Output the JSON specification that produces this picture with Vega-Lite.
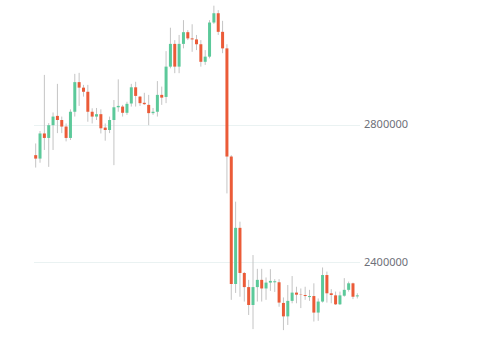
{
  "$schema": "https://vega.github.io/schema/vega-lite/v6.json",
  "autosize": {"type": "none"},
  "padding": {"left": 33.5, "top": 0, "right": 120.5, "bottom": 0},
  "width": 326,
  "height": 354,
  "config": {"view": {"stroke": null}},
  "data": {"values": [
    {"i":0,"open":2711000,"high":2745000,"low":2675000,"close":2701000},
    {"i":1,"open":2701000,"high":2781000,"low":2689000,"close":2774000},
    {"i":2,"open":2774000,"high":2944000,"low":2726000,"close":2761000},
    {"i":3,"open":2761000,"high":2804000,"low":2677000,"close":2798000},
    {"i":4,"open":2798000,"high":2835000,"low":2726000,"close":2823000},
    {"i":5,"open":2825000,"high":2918000,"low":2775000,"close":2813000},
    {"i":6,"open":2813000,"high":2823000,"low":2775000,"close":2794000},
    {"i":7,"open":2794000,"high":2803000,"low":2751000,"close":2761000},
    {"i":8,"open":2761000,"high":2844000,"low":2755000,"close":2837000},
    {"i":9,"open":2837000,"high":2947000,"low":2823000,"close":2923000},
    {"i":10,"open":2923000,"high":2950000,"low":2854000,"close":2907000},
    {"i":11,"open":2907000,"high":2915000,"low":2881000,"close":2895000},
    {"i":12,"open":2895000,"high":2915000,"low":2808000,"close":2837000},
    {"i":13,"open":2837000,"high":2847000,"low":2803000,"close":2823000},
    {"i":14,"open":2823000,"high":2848000,"low":2813000,"close":2830000},
    {"i":15,"open":2830000,"high":2844000,"low":2774000,"close":2789000},
    {"i":16,"open":2791000,"high":2803000,"low":2753000,"close":2784000},
    {"i":17,"open":2784000,"high":2823000,"low":2775000,"close":2813000},
    {"i":18,"open":2813000,"high":2871000,"low":2682000,"close":2850000},
    {"i":19,"open":2850000,"high":2931000,"low":2837000,"close":2854000},
    {"i":20,"open":2852000,"high":2857000,"low":2823000,"close":2834000},
    {"i":21,"open":2834000,"high":2866000,"low":2828000,"close":2860000},
    {"i":22,"open":2861000,"high":2918000,"low":2852000,"close":2908000},
    {"i":23,"open":2908000,"high":2924000,"low":2852000,"close":2883000},
    {"i":24,"open":2881000,"high":2883000,"low":2854000,"close":2862000},
    {"i":25,"open":2863000,"high":2892000,"low":2857000,"close":2859000},
    {"i":26,"open":2857000,"high":2886000,"low":2798000,"close":2833000},
    {"i":27,"open":2833000,"high":2848000,"low":2828000,"close":2837000},
    {"i":28,"open":2837000,"high":2926000,"low":2823000,"close":2886000},
    {"i":29,"open":2886000,"high":2910000,"low":2857000,"close":2878000},
    {"i":30,"open":2880000,"high":3013000,"low":2862000,"close":2968000},
    {"i":31,"open":2968000,"high":3081000,"low":2963000,"close":3034000},
    {"i":32,"open":3034000,"high":3045000,"low":2949000,"close":2968000},
    {"i":33,"open":2968000,"high":3060000,"low":2949000,"close":3034000},
    {"i":34,"open":3034000,"high":3103000,"low":3021000,"close":3068000},
    {"i":35,"open":3068000,"high":3074000,"low":3045000,"close":3050000},
    {"i":36,"open":3050000,"high":3091000,"low":3011000,"close":3047000},
    {"i":37,"open":3047000,"high":3060000,"low":3016000,"close":3033000},
    {"i":38,"open":3033000,"high":3045000,"low":2968000,"close":2982000},
    {"i":39,"open":2982000,"high":3016000,"low":2973000,"close":2997000},
    {"i":40,"open":2997000,"high":3103000,"low":2992000,"close":3096000},
    {"i":41,"open":3096000,"high":3145000,"low":3092000,"close":3123000},
    {"i":42,"open":3123000,"high":3132000,"low":3060000,"close":3069000},
    {"i":43,"open":3069000,"high":3101000,"low":3007000,"close":3021000},
    {"i":44,"open":3021000,"high":3033000,"low":2600000,"close":2707000},
    {"i":45,"open":2707000,"high":2711000,"low":2291000,"close":2337000},
    {"i":46,"open":2337000,"high":2576000,"low":2311000,"close":2500000},
    {"i":47,"open":2500000,"high":2518000,"low":2300000,"close":2369000},
    {"i":48,"open":2369000,"high":2372000,"low":2286000,"close":2328000},
    {"i":49,"open":2328000,"high":2349000,"low":2247000,"close":2276000},
    {"i":50,"open":2276000,"high":2421000,"low":2206000,"close":2328000},
    {"i":51,"open":2328000,"high":2381000,"low":2286000,"close":2349000},
    {"i":52,"open":2349000,"high":2381000,"low":2286000,"close":2324000},
    {"i":53,"open":2324000,"high":2356000,"low":2291000,"close":2341000},
    {"i":54,"open":2341000,"high":2380000,"low":2317000,"close":2346000},
    {"i":55,"open":2342000,"high":2351000,"low":2314000,"close":2345000},
    {"i":56,"open":2342000,"high":2351000,"low":2271000,"close":2283000},
    {"i":57,"open":2282000,"high":2298000,"low":2203000,"close":2243000},
    {"i":58,"open":2243000,"high":2334000,"low":2218000,"close":2288000},
    {"i":59,"open":2288000,"high":2360000,"low":2281000,"close":2312000},
    {"i":60,"open":2312000,"high":2329000,"low":2281000,"close":2306000},
    {"i":61,"open":2306000,"high":2324000,"low":2267000,"close":2305000},
    {"i":62,"open":2305000,"high":2329000,"low":2291000,"close":2302000},
    {"i":63,"open":2299000,"high":2320000,"low":2288000,"close":2302000},
    {"i":64,"open":2302000,"high":2339000,"low":2228000,"close":2254000},
    {"i":65,"open":2254000,"high":2295000,"low":2230000,"close":2286000},
    {"i":66,"open":2286000,"high":2385000,"low":2283000,"close":2363000},
    {"i":67,"open":2363000,"high":2373000,"low":2283000,"close":2310000},
    {"i":68,"open":2310000,"high":2322000,"low":2281000,"close":2305000},
    {"i":69,"open":2304000,"high":2315000,"low":2276000,"close":2278000},
    {"i":70,"open":2278000,"high":2315000,"low":2276000,"close":2304000},
    {"i":71,"open":2303000,"high":2354000,"low":2300000,"close":2320000},
    {"i":72,"open":2320000,"high":2344000,"low":2315000,"close":2339000},
    {"i":73,"open":2339000,"high":2341000,"low":2293000,"close":2300000},
    {"i":74,"open":2301000,"high":2310000,"low":2295000,"close":2304000}
  ]},
  "encoding": {
    "x": {"field": "i", "type": "ordinal", "axis": null, "scale": {"paddingInner": 0, "paddingOuter": 0}}
  },
  "layer": [
    {
      "mark": {"type": "rule", "color": "#c4c4c4", "strokeWidth": 1},
      "encoding": {
        "y": {"field": "low", "type": "quantitative",
          "scale": {"domain": [2133761, 3161424], "nice": false, "zero": false},
          "axis": {"orient": "right", "values": [2400000, 2800000], "format": "d", "domain": false, "ticks": false,
            "grid": true, "gridColor": "#EAF2F2", "gridWidth": 1, "labelPadding": 4, "labelFontSize": 11,
            "labelColor": "#6E7079", "labelFont": "Noto Sans", "title": null}},
        "y2": {"field": "high"}
      }
    },
    {
      "mark": {"type": "bar", "size": 3},
      "encoding": {
        "y": {"field": "open", "type": "quantitative"},
        "y2": {"field": "close"},
        "color": {"condition": {"test": "datum.close > datum.open", "value": "#5CC99A"}, "value": "#EB5B38"}
      }
    }
  ]
}
